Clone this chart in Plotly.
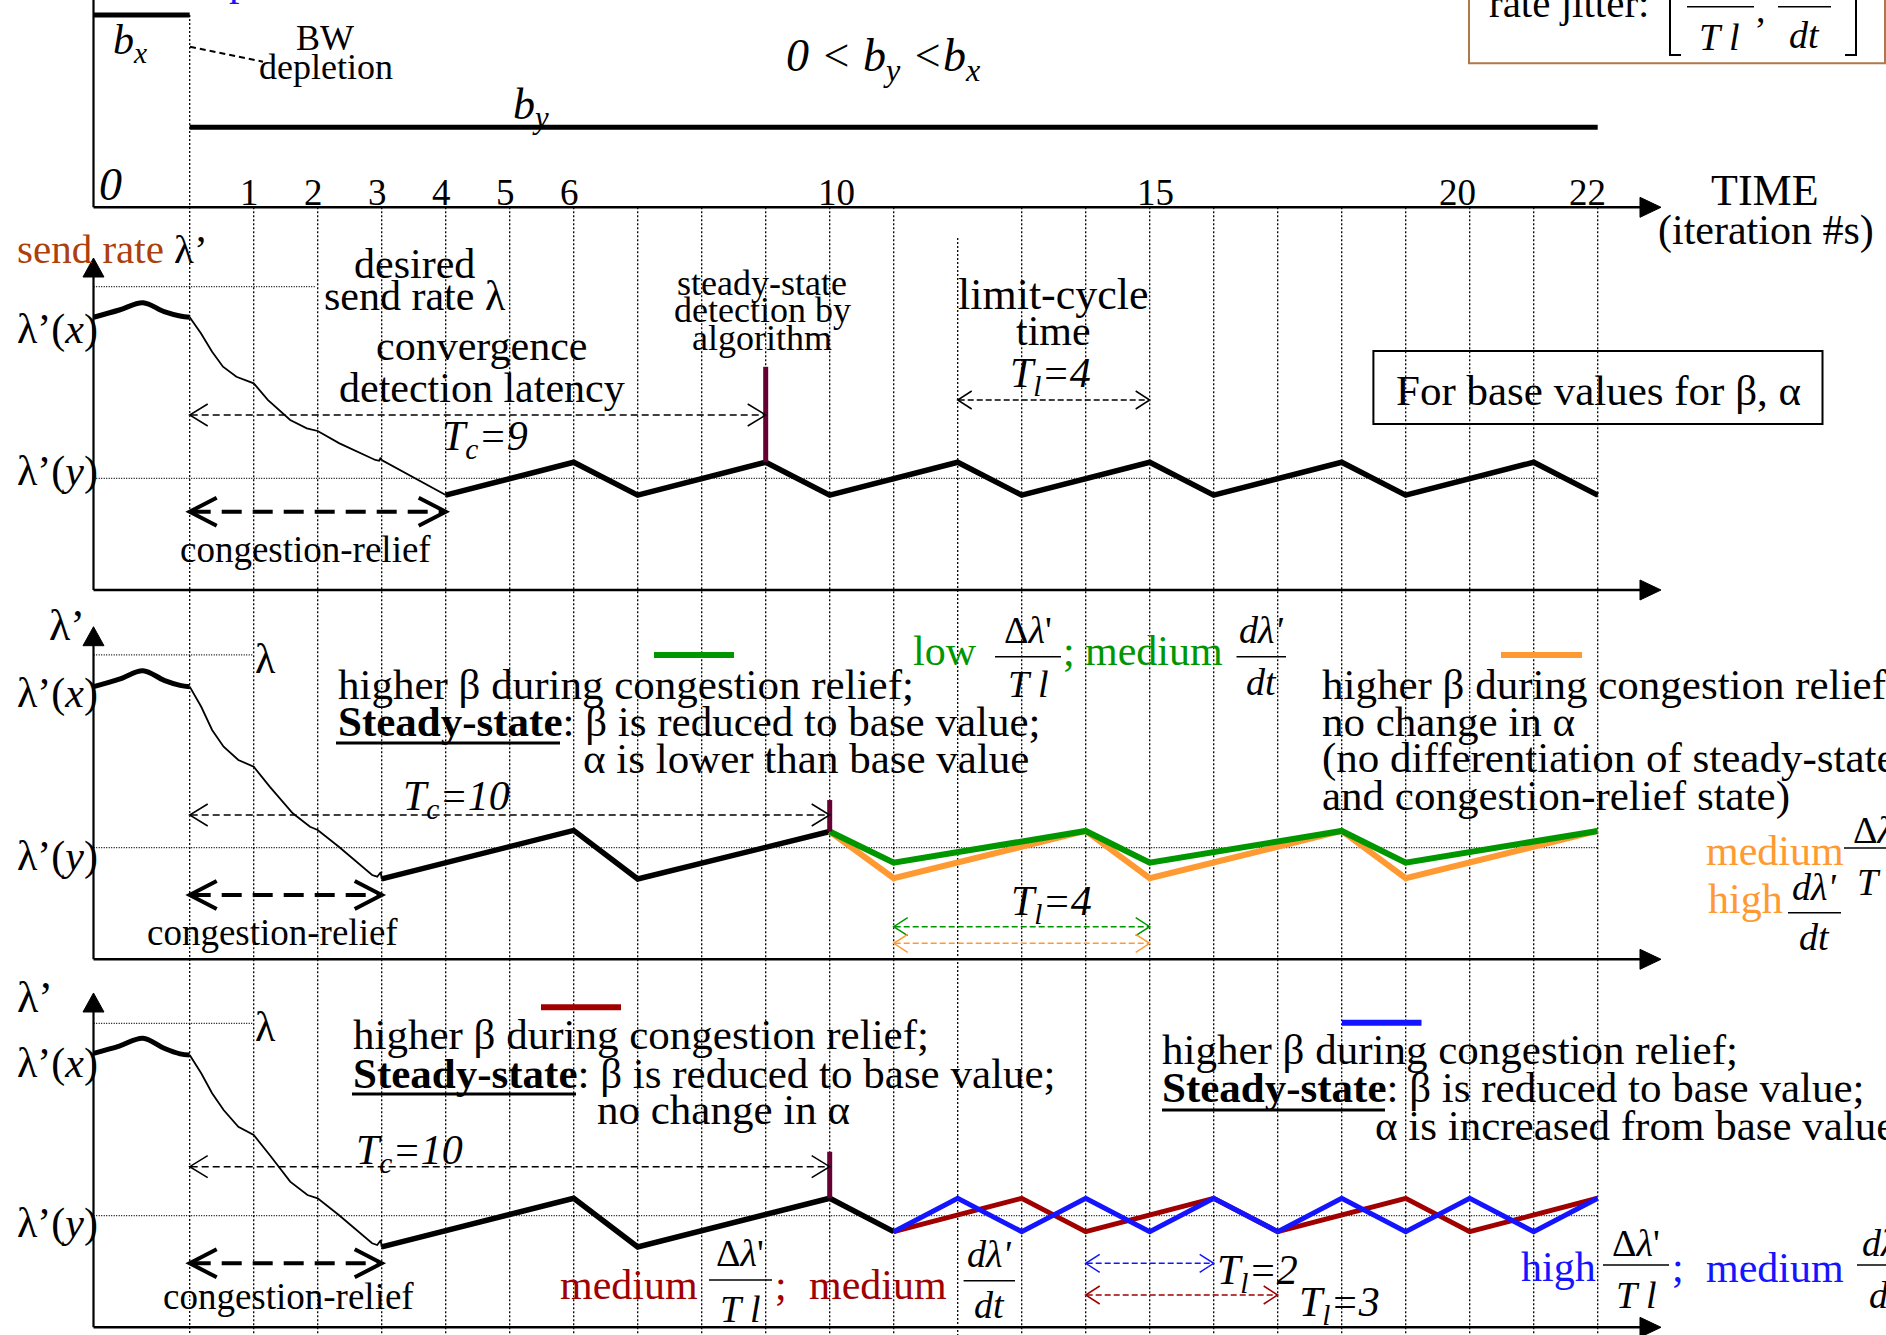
import plotly.graph_objects as go

W, H = 1886, 1335
FONT = "Liberation Serif"

# ---------------------------------------------------------------- data
time_ticks = [1, 2, 3, 4, 5, 6, 10, 15, 20, 22]

# available bandwidth (top panel), in units of b_x
b_x, b_y = 1.0, 0.416
bx_t = [-1.5, 0.0]
by_t = [0.0, 22.0]

# send rate, in units of the steady-state level lambda'(y)
lam_desired = [2.718, 2.727, 2.724]

# bandwidth-depletion onset (thick line before iteration 0)
pre_t = [-1.5, -1.1, -0.73, -0.4, -0.15, 0.0]
pre_v = [
    [2.444, 2.509, 2.574, 2.494, 2.455, 2.444],
    [2.443, 2.510, 2.586, 2.500, 2.455, 2.443],
    [2.455, 2.520, 2.590, 2.500, 2.450, 2.440],
]

# congestion-relief decay (thin line)
relief_t = [
    [0, 0.175, 0.35, 0.52, 0.73, 1.0, 1.22, 1.57, 1.83, 2.0, 2.34, 2.69, 2.9, 2.96, 2.985, 3.0, 4.0],
    [0, 0.18, 0.35, 0.53, 0.76, 1.0, 1.25, 1.61, 1.88, 2.0, 2.33, 2.64, 2.85, 2.93, 2.985, 3.0],
    [0, 0.18, 0.35, 0.53, 0.76, 1.0, 1.25, 1.57, 1.84, 2.0, 2.33, 2.64, 2.85, 2.93, 2.985, 3.0],
]
relief_v = [
    [2.444, 2.300, 2.135, 2.001, 1.911, 1.852, 1.703, 1.523, 1.449, 1.425, 1.314, 1.225, 1.165, 1.158, 1.185, 1.165, 0.851],
    [2.443, 2.263, 2.055, 1.905, 1.786, 1.726, 1.547, 1.308, 1.188, 1.159, 1.009, 0.860, 0.755, 0.740, 0.780, 0.720],
    [2.440, 2.276, 2.097, 1.947, 1.797, 1.723, 1.544, 1.305, 1.185, 1.156, 1.006, 0.857, 0.753, 0.737, 0.780, 0.720],
]

# steady oscillation (thick black line)
osc_t = [
    [4, 6, 7, 9, 10, 12, 13, 15, 16, 18, 19, 21, 22],
    [3, 6, 7, 10],
    [3, 6, 7, 10, 11],
]
osc_v = [
    [0.85, 1.145, 0.85, 1.145, 0.85, 1.145, 0.85, 1.145, 0.85, 1.145, 0.85, 1.145, 0.85],
    [0.72, 1.155, 0.72, 1.145],
    [0.72, 1.156, 0.72, 1.156, 0.857],
]

# variants after steady-state detection
green_t = [10, 11, 14, 15, 18, 19, 22]
green_v = [1.145, 0.866, 1.15, 0.866, 1.15, 0.866, 1.15]
orange_t = [10, 11, 14, 15, 18, 19, 22]
orange_v = [1.145, 0.726, 1.15, 0.726, 1.15, 0.726, 1.15]
red_t = [11, 13, 14, 16, 17, 19, 20, 22]
red_v = [0.857, 1.156, 0.857, 1.156, 0.857, 1.156, 0.857, 1.156]
blue_t = [11, 12, 13, 14, 15, 16, 17, 18, 19, 20, 21, 22]
blue_v = [0.857, 1.156, 0.857, 1.156, 0.857, 1.156, 0.857, 1.156, 0.857, 1.156, 0.857, 1.156]

# steady-state detection instants
det_t = [9, 10, 10]
det_lo = [1.145, 1.145, 1.156]
det_hi = [2.0, 1.427, 1.573]

# ---------------------------------------------------------------- geometry
T0_PX, T_STEP = 189.7, 64.0          # pixel column of iteration 0, pixels per iteration
BW_BASE, BW_UNIT = 207.3, 192.3      # top panel time axis row, pixels per b_x
RATE_BASES = [590.0, 959.3, 1327.3]  # rate panel time axis rows
RATE_UNIT = 111.6                    # pixels per lambda'(y)
AXIS_X = 93.5
SUB_DROP = 5                         # texts with subscripts sit a little lower

GREEN = "#009600"
ORANGE = "#FF9A33"
DARKRED = "#A00000"
BLUE = "#1414FF"
PURPLE = "#660033"
BROWN = "#AD3F0C"

fig = go.Figure()
shapes, ann = [], []
YAX = ["y2", "y3", "y4"]


def tpx(t):
    return T0_PX + T_STEP * t


def P(x, y):
    return x / W, 1 - y / H


def note(text, x, base, size=43, color="black", anchor="left"):
    if "<sub>" in text:
        base += SUB_DROP
    yc = base - 0.3375 * size
    ann.append(dict(text=text, x=x / W, y=1 - yc / H, xref="paper", yref="paper",
                    xanchor=anchor, yanchor="middle", showarrow=False,
                    borderpad=0, borderwidth=0,
                    font=dict(family=FONT, size=size, color=color)))


def seg(x0, y0, x1, y1, color="black", width=2, dash=None, layer="above"):
    a, b = P(x0, y0)
    c, d = P(x1, y1)
    ln = dict(color=color, width=width)
    if dash:
        ln["dash"] = dash
    shapes.append(dict(type="line", xref="paper", yref="paper", x0=a, y0=b, x1=c, y1=d,
                       line=ln, layer=layer))


def poly(points, color, width, fill=None):
    d = "M " + " L ".join("%.6f,%.6f" % P(x, y) for x, y in points)
    if fill:
        d += " Z"
    shapes.append(dict(type="path", xref="paper", yref="paper", path=d,
                       line=dict(color=color, width=width),
                       fillcolor=fill if fill else "rgba(0,0,0,0)"))


def rect(x0, y0, x1, y1, color, width):
    a, b = P(x0, y0)
    c, d = P(x1, y1)
    shapes.append(dict(type="rect", xref="paper", yref="paper", x0=a, y0=b, x1=c, y1=d,
                       line=dict(color=color, width=width), fillcolor="rgba(0,0,0,0)"))


def span_arrow(t0, t1, y, color="black", width=1.5, dash="7px,4px", L=18, h=11):
    x0, x1 = tpx(t0), tpx(t1)
    seg(x0 + 1, y, x1 - 1, y, color, width, dash)
    poly([(x0 + L, y - h), (x0, y), (x0 + L, y + h)], color, width)
    poly([(x1 - L, y - h), (x1, y), (x1 - L, y + h)], color, width)


def line_trace(t, v, yaxis, color, width, shape="linear"):
    fig.add_trace(go.Scatter(x=t, y=v, xaxis="x", yaxis=yaxis, mode="lines",
                             line=dict(color=color, width=width, shape=shape),
                             hoverinfo="skip", showlegend=False))


# ---------------------------------------------------------------- grid
GRID_DASH = "2px,2px"
for t in range(0, 23):
    top = 15 if t == 0 else (238 if t == 12 else BW_BASE)
    shapes.append(dict(type="line", xref="x", yref="paper", x0=t, x1=t,
                       y0=1 - top / H, y1=0, layer="below",
                       line=dict(color="black", width=1.3, dash=GRID_DASH)))

for k in range(3):
    yref = YAX[k]
    shapes.append(dict(type="line", xref="x", yref=yref, x0=-1.5, x1=22, y0=1.0, y1=1.0,
                       layer="below", line=dict(color="black", width=1.3, dash="1px,1.5px")))
    lam_end = 1.96 if k == 0 else 0.98
    shapes.append(dict(type="line", xref="x", yref=yref, x0=-1.5, x1=lam_end,
                       y0=lam_desired[k], y1=lam_desired[k], layer="below",
                       line=dict(color="black", width=1.3, dash="1px,1.5px")))

# ---------------------------------------------------------------- axes
seg(AXIS_X, -2, AXIS_X, BW_BASE, width=2.2)
for base in [BW_BASE] + RATE_BASES:
    seg(AXIS_X, base, 1643, base, width=2.5)
    poly([(1640, base - 10), (1661, base), (1640, base + 10)], "black", 1, fill="black")
for tip, base in zip([258, 626.7, 993], RATE_BASES):
    seg(AXIS_X, tip + 15, AXIS_X, base, width=2.2)
    poly([(AXIS_X - 10.5, tip + 19), (AXIS_X, tip), (AXIS_X + 10.5, tip + 19)], "black", 1, fill="black")

# ---------------------------------------------------------------- top panel: bandwidth
line_trace(bx_t, [b_x, b_x], "y", "black", 5)
line_trace(by_t, [b_y, b_y], "y", "black", 5)
seg(190, 46.7, 263, 61.7, width=2, dash="6px,4px")
note("<i>b<sub>x</sub></i>", 113, 52, 42)
note("BW", 325, 50, 36, anchor="center")
note("depletion", 326, 79, 36, anchor="center")
note("<i>0 &lt; b<sub>y</sub> &lt;b<sub>x</sub></i>", 786, 70, 46)
note("<i>b<sub>y</sub></i>", 513, 117, 44)
note("<i>0</i>", 99, 200, 46)
note("p", 240, -5, 42, color=BLUE, anchor="center")

tick_nudge = {1: -4, 2: -4, 3: -4, 4: -4, 5: -4, 6: -4, 10: 7, 15: 6, 20: -12, 22: -10}
for t in time_ticks:
    note(str(t), tpx(t) + tick_nudge[t], 205, 37, anchor="center")
note("TIME", 1765, 205, 44, anchor="center")
note("(iteration #s)", 1766, 245, 42, anchor="center")

# rate jitter legend box (partly above the page)
rect(1469, -6, 1885, 63.3, "#B07848", 2)
note("rate jitter:", 1489, 17, 41)
poly([(1670, -6), (1670, 55), (1681, 55)], "black", 2)
poly([(1845, 55), (1856, 55), (1856, -6)], "black", 2)
seg(1687, 6.7, 1754, 6.7, width=1.5)
seg(1778, 6.7, 1831, 6.7, width=1.5)
note("<i>T l</i>", 1719, 50, 38, anchor="center")
note(",", 1761, 22, 38, anchor="center")
note("<i>dt</i>", 1804, 48, 38, anchor="center")

# ---------------------------------------------------------------- rate panels: curves
for k in range(3):
    line_trace(pre_t, pre_v[k], YAX[k], "black", 5, shape="spline")
    line_trace(relief_t[k], relief_v[k], YAX[k], "black", 1.8)
    line_trace(osc_t[k], osc_v[k], YAX[k], "black", 5.5)

line_trace(orange_t, orange_v, "y3", ORANGE, 6)
line_trace(green_t, green_v, "y3", GREEN, 6)
line_trace(red_t, red_v, "y4", DARKRED, 5)
line_trace(blue_t, blue_v, "y4", BLUE, 5)

for k in range(3):
    line_trace([det_t[k], det_t[k]], [det_lo[k], det_hi[k]], YAX[k], PURPLE, 5)

# ---------------------------------------------------------------- panel 2 (base values)
note('<span style="color:%s">send rate</span> λ’' % BROWN, 17, 263, 41)
note("λ’(<i>x</i>)", 17, 344, 42)
note("λ’(<i>y</i>)", 17, 486, 42)
note("desired", 414, 278, 42, anchor="center")
note("send rate λ", 415, 310, 42, anchor="center")
note("convergence", 482, 360, 42, anchor="center")
note("detection latency", 482, 402, 42, anchor="center")
note("<i>T<sub>c</sub>=9</i>", 485, 448, 42, anchor="center")
span_arrow(0, 9, 415)
span_arrow(0, 4, 511.7, width=4, dash="20px,11px", L=27, h=14)
note("congestion-relief", 305, 562, 37, anchor="center")
note("steady-state", 762, 295, 36, anchor="center")
note("detection by", 762, 322, 36, anchor="center")
note("algorithm", 762, 350, 36, anchor="center")
note("limit-cycle", 1053, 309, 44, anchor="center")
note("time", 1053, 345, 42, anchor="center")
note("<i>T<sub>l</sub>=4</i>", 1050, 385, 42, anchor="center")
span_arrow(12, 15, 400, L=14, h=9, dash="6px,3px")
rect(1373.4, 351, 1822.5, 424, "black", 2)
note("For base values for β, α", 1598, 405, 43, anchor="center")

# ---------------------------------------------------------------- panel 3 (green / orange)
note("λ’", 49, 640, 44)
note("λ", 255, 673, 42)
note("λ’(<i>x</i>)", 17, 708, 42)
note("λ’(<i>y</i>)", 17, 871, 42)
seg(654, 655, 734, 655, GREEN, 6)
note("higher β during congestion relief;", 337.5, 699)
note("<b>Steady-state</b>: β is reduced to base value;", 337.5, 736)
seg(336, 743, 560, 743, width=3)
note("α is lower than base value", 582.6, 773)
note("<i>T<sub>c</sub>=10</i>", 456, 808, 42, anchor="center")
span_arrow(0, 10, 815)
span_arrow(0, 3, 895, width=4, dash="20px,11px", L=27, h=14)
note("congestion-relief", 272, 945, 37, anchor="center")

note("low", 913, 665, 42, color=GREEN)
note("Δ<i>λ</i>'", 1028, 643, 38, anchor="center")
seg(995, 656.7, 1061, 656.7, width=1.5)
note("<i>T l</i>", 1028, 697, 38, anchor="center")
note(";", 1063, 665, 42, color=GREEN)
note("medium", 1084.5, 665, 42, color=GREEN)
note("<i>dλ'</i>", 1261, 643, 38, anchor="center")
seg(1236.5, 656.7, 1286, 656.7, width=1.5)
note("<i>dt</i>", 1261, 695, 38, anchor="center")

seg(1501, 655, 1582, 655, ORANGE, 6)
note("higher β during congestion relief;", 1322.4, 699)
note("no change in α", 1322.4, 736)
note("(no differentiation of steady-state", 1322.4, 773)
note("and congestion-relief state)", 1322.4, 811)

note("<i>T<sub>l</sub>=4</i>", 1051, 913, 42, anchor="center")
span_arrow(11, 15, 926.7, color=GREEN, L=14, h=9, dash="6px,3px")
span_arrow(11, 15, 943.3, color=ORANGE, L=14, h=9, dash="6px,3px")

note("medium", 1705.6, 865, 42, color=ORANGE)
note("Δ<i>λ</i>'", 1877, 843, 38, anchor="center")
seg(1844, 848, 1910, 848, width=1.5)
note("<i>T l</i>", 1877, 895, 38, anchor="center")
note("high", 1707.6, 913, 42, color=ORANGE)
note("<i>dλ'</i>", 1814, 900, 38, anchor="center")
seg(1788, 912.7, 1841, 912.7, width=1.5)
note("<i>dt</i>", 1814, 950, 38, anchor="center")

# ---------------------------------------------------------------- panel 4 (red / blue)
note("λ’", 17, 1012, 44)
note("λ", 255, 1041, 42)
note("λ’(<i>x</i>)", 17, 1078, 42)
note("λ’(<i>y</i>)", 17, 1238, 42)
seg(541, 1007.3, 621, 1007.3, DARKRED, 6)
note("higher β during congestion relief;", 353, 1049)
note("<b>Steady-state</b>: β is reduced to base value;", 353, 1088)
seg(352, 1094, 576, 1094, width=3)
note("no change in α", 597, 1124)
note("<i>T<sub>c</sub>=10</i>", 409, 1162, 42, anchor="center")
span_arrow(0, 10, 1166.7)
span_arrow(0, 3, 1263.3, width=4, dash="20px,11px", L=27, h=14)
note("congestion-relief", 288, 1309, 37, anchor="center")

note("medium", 560, 1299, 42, color=DARKRED)
note("Δ<i>λ</i>'", 740, 1266, 38, anchor="center")
seg(709, 1280, 772, 1280, width=1.5)
note("<i>T l</i>", 740, 1322, 38, anchor="center")
note(";", 775, 1299, 42, color=DARKRED)
note("medium", 809, 1299, 42, color=DARKRED)
note("<i>dλ'</i>", 989, 1267, 38, anchor="center")
seg(963.6, 1280.7, 1015, 1280.7, width=1.5)
note("<i>dt</i>", 989, 1318, 38, anchor="center")

seg(1342, 1022.7, 1421.5, 1022.7, BLUE, 6)
note("higher β during congestion relief;", 1162, 1064)
note("<b>Steady-state</b>: β is reduced to base value;", 1162, 1102)
seg(1162, 1110, 1385, 1110, width=3)
note("α is increased from base value", 1375, 1140)

span_arrow(14, 16, 1263.3, color=BLUE, L=14, h=9, dash="6px,3px")
span_arrow(14, 17, 1295, color=DARKRED, L=14, h=9, dash="6px,3px")
note("<i>T<sub>l</sub>=2</i>", 1217, 1282, 42)
note("<i>T<sub>l</sub>=3</i>", 1299, 1314, 42)

note("high", 1520.6, 1281, 42, color=BLUE)
note("Δ<i>λ</i>'", 1636, 1256, 38, anchor="center")
seg(1603, 1265, 1669, 1265, width=1.5)
note("<i>T l</i>", 1636, 1308, 38, anchor="center")
note(";", 1672, 1281, 42, color=BLUE)
note("medium", 1705.6, 1282, 42, color=BLUE)
note("<i>dλ'</i>", 1884, 1256, 38, anchor="center")
seg(1857, 1265, 1910, 1265, width=1.5)
note("<i>dt</i>", 1884, 1308, 38, anchor="center")


# ---------------------------------------------------------------- layout
def yrange(base, unit):
    return [(base - H) / unit, base / unit]


hidden = dict(visible=False, fixedrange=True, domain=[0, 1])
fig.update_layout(
    width=W, height=H,
    margin=dict(l=0, r=0, t=0, b=0, pad=0),
    paper_bgcolor="white", plot_bgcolor="rgba(0,0,0,0)",
    showlegend=False,
    xaxis=dict(range=[-T0_PX / T_STEP, (W - T0_PX) / T_STEP], **hidden),
    yaxis=dict(range=yrange(BW_BASE, BW_UNIT), **hidden),
    yaxis2=dict(range=yrange(RATE_BASES[0], RATE_UNIT), overlaying="y", **hidden),
    yaxis3=dict(range=yrange(RATE_BASES[1], RATE_UNIT), overlaying="y", **hidden),
    yaxis4=dict(range=yrange(RATE_BASES[2], RATE_UNIT), overlaying="y", **hidden),
    shapes=shapes,
    annotations=ann,
    font=dict(family=FONT),
)

fig.write_html("out.html", config={"displayModeBar": False})
